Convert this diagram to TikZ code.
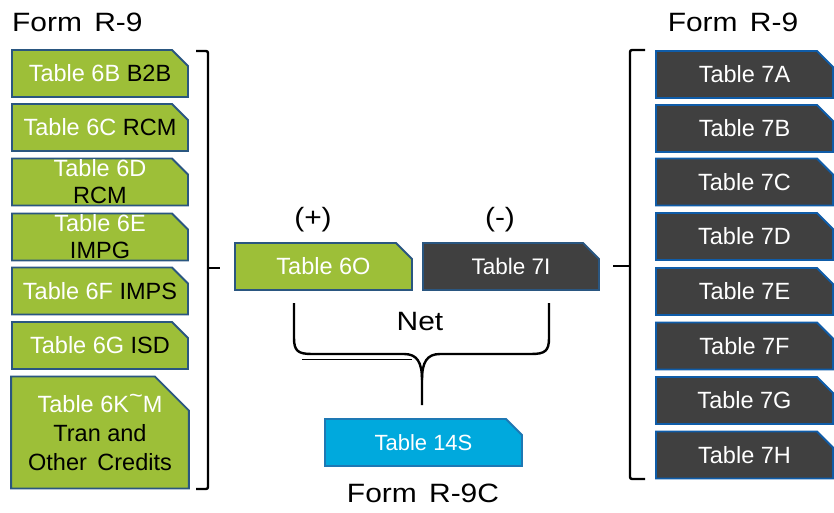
\documentclass[tikz,border=0pt]{standalone}
\usepackage{fontspec}
\setmainfont{Liberation Sans}
\newfontfamily\widefont{Liberation Sans}[FakeStretch=1.13]
\usetikzlibrary{shapes.misc}

\definecolor{leafgreen}{HTML}{9DBF38}
\definecolor{navyedge}{HTML}{2A5680}
\definecolor{slate}{HTML}{404040}
\definecolor{blueedge}{HTML}{0F5CA8}
\definecolor{skyfill}{HTML}{00A9DD}
\definecolor{skyedge}{HTML}{1E78B4}

\begin{document}
\begin{tikzpicture}[x=1pt,y=-1pt,
  tab/.style={chamfered rectangle, chamfered rectangle corners=north east,
    chamfered rectangle xsep=8pt, chamfered rectangle ysep=8pt,
    line width=1.8pt, inner sep=0pt, minimum height=47pt,
    text=white, align=center, font=\fontsize{23.5}{27}\selectfont},
  greentab/.style={tab, fill=leafgreen, draw=navyedge, minimum width=176pt},
  darktab/.style={tab, fill=slate, draw=blueedge, minimum width=177pt},
  tighttab/.style={inner ysep=-8pt},
  heading/.style={inner sep=0pt, font=\widefont\fontsize{26.5}{30}\selectfont},
  bracketline/.style={line width=2.4pt, rounded corners=2pt},
  braceline/.style={line width=2.4pt},
]
\useasboundingbox (0,0) rectangle (834,513);

% headings
\node[heading, anchor=west] (formL) at (12,22) {Form\hspace{4pt} R-9};
\node[heading] (formR) at (733,22) {Form\hspace{4pt} R-9};

% inward tables (left column)
\node[greentab] (t6b) at (100,73.5) {Table 6B \textcolor{black}{B2B}};
\node[greentab] (t6c) at (100,127.5) {Table 6C \textcolor{black}{RCM}};
\node[greentab, tighttab] (t6d) at (100,182) {Table 6D\\\textcolor{black}{RCM}};
\node[greentab, tighttab] (t6e) at (100,237) {Table 6E\\\textcolor{black}{IMPG}};
\node[greentab] (t6f) at (100,291) {Table 6F \textcolor{black}{IMPS}};
\node[greentab] (t6g) at (100,345.5) {Table 6G \textcolor{black}{ISD}};
\node[greentab, minimum height=112pt, chamfered rectangle xsep=17pt,
  chamfered rectangle ysep=17pt, font=\fontsize{23.5}{29}\selectfont]
  (t6k) at (100,432.5)
  {Table 6K\raisebox{.36em}{\textasciitilde}M\\\textcolor{black}{Tran and}\\\textcolor{black}{Other\hspace{4pt} Credits}};

% outward tables (right column)
\node[darktab] (t7a) at (744.5,74.5) {Table 7A};
\node[darktab] (t7b) at (744.5,128.5) {Table 7B};
\node[darktab] (t7c) at (744.5,182) {Table 7C};
\node[darktab] (t7d) at (744.5,236.5) {Table 7D};
\node[darktab] (t7e) at (744.5,291.5) {Table 7E};
\node[darktab] (t7f) at (744.5,346) {Table 7F};
\node[darktab] (t7g) at (744.5,400.5) {Table 7G};
\node[darktab] (t7h) at (744.5,455) {Table 7H};

% totals
\node[greentab, minimum width=177pt] (t6o) at (323.5,266.5) {Table 6O};
\node[darktab, draw=navyedge, minimum width=176pt, font=\fontsize{22.5}{26}\selectfont]
  (t7i) at (511,266.5) {Table 7I};
\node[tab, fill=skyfill, draw=skyedge, minimum width=197pt, font=\fontsize{22}{26}\selectfont]
  (t14s) at (423.5,442.5) {Table 14S};

\node[heading] (plus) at (313,220) {(+)};
\node[heading] (minus) at (500,220) {(-)};
\node[heading] (net) at (420,322) {Net};
\node[heading] (formC) at (423,493) {Form\hspace{4pt} R-9C};

% left bracket gathering 6B..6K into 6O
\coordinate (lbTop) at (196,51);
\coordinate (lbBot) at (196,489);
\coordinate (lbTip) at (220,268);
\draw[bracketline] (lbTop) -- (208,51) -- (208,489) -- (lbBot);
\draw[line width=2.4pt] (208,268) -- (lbTip);

% right bracket gathering 7A..7H into 7I
\coordinate (rbTop) at (645,50);
\coordinate (rbBot) at (645,479);
\coordinate (rbTip) at (613,266);
\draw[bracketline] (rbTop) -- (630,50) -- (630,479) -- (rbBot);
\draw[line width=2.4pt] (630,266) -- (rbTip);

% net brace from 6O and 7I down to 14S
\coordinate (netL) at (294,303);
\coordinate (netR) at (549,303);
\coordinate (netTip) at (422,405);
\draw[braceline] (netL) -- (294,338) .. controls (294,351) and (298,354) .. (312,354)
  -- (404,354) .. controls (417,354) and (422,362) .. (422,380) -- (netTip);
\draw[braceline] (netR) -- (549,338) .. controls (549,351) and (545,354) .. (531,354)
  -- (440,354) .. controls (427,354) and (422,362) .. (422,380);
\draw[line width=1.6pt] (302,359.5) -- (412,359.5);
\end{tikzpicture}
\end{document}
